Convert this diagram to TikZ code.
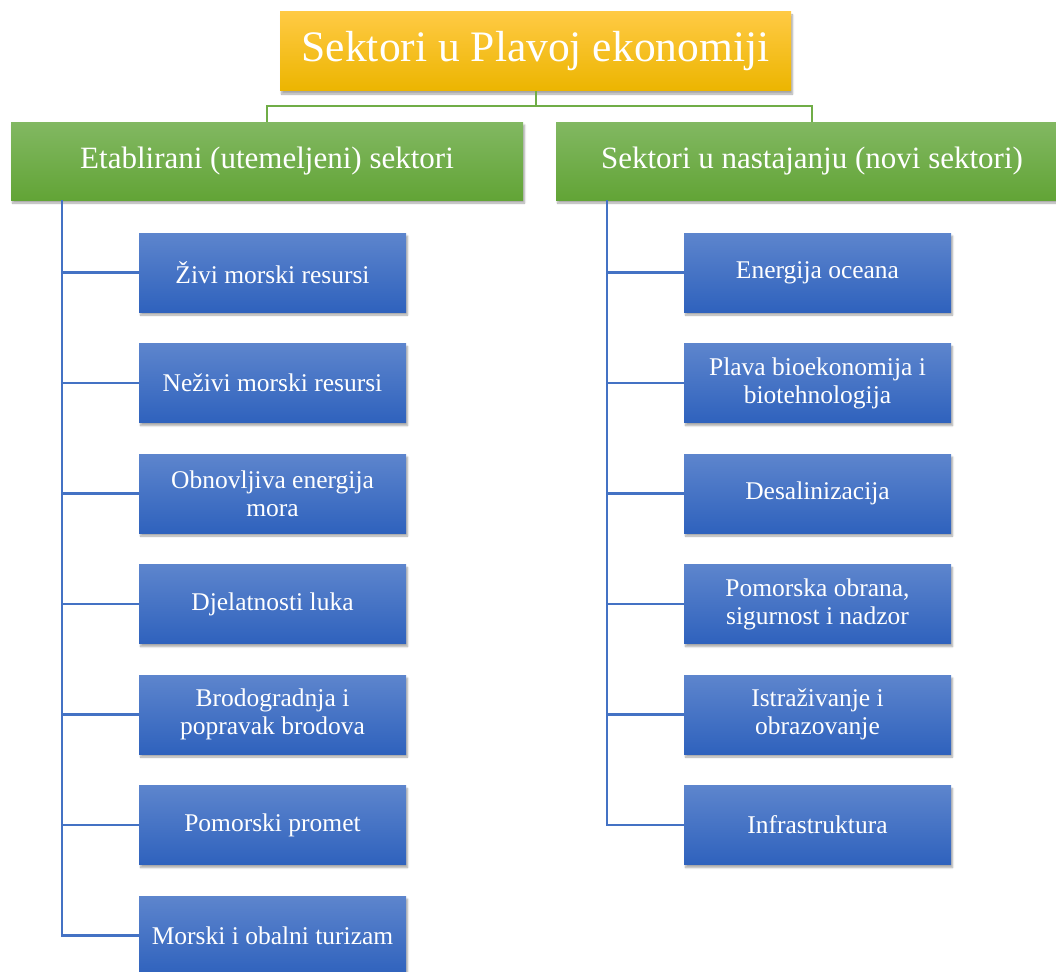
\documentclass[tikz,border=0pt]{standalone}
\usepackage{fontspec}
\setmainfont{Liberation Serif}
\usepackage{tikz}
\usetikzlibrary{shadows,shadows.blur}

\definecolor{goldtop}{HTML}{FFCA44}
\definecolor{goldmid}{HTML}{FFC200}
\definecolor{goldbot}{HTML}{ECB500}
\definecolor{greentop}{HTML}{82B862}
\definecolor{greenmid}{HTML}{6EAD42}
\definecolor{greenbot}{HTML}{62A436}
\definecolor{bluetop}{HTML}{5D85CD}
\definecolor{bluemid}{HTML}{3F6CC6}
\definecolor{bluebot}{HTML}{2F62BD}
\definecolor{greenline}{HTML}{70AD47}
\definecolor{blueline}{HTML}{4472C4}

\begin{document}
\begin{tikzpicture}[x=1pt, y=-1pt,
    box/.style={rectangle, inner sep=0pt, text=white, align=center,
      blur shadow={shadow xshift=1.5pt, shadow yshift=-3pt, shadow opacity=35, shadow blur steps=6}},
    topbox/.style={box, minimum width=511pt, minimum height=79pt,
      top color=goldtop, middle color=goldmid, bottom color=goldbot,
      font=\fontsize{43.5}{50}\selectfont},
    groupbox/.style={box, minimum width=512pt, minimum height=78pt,
      top color=greentop, middle color=greenmid, bottom color=greenbot,
      font=\fontsize{31}{36}\selectfont},
    itembox/.style={box, minimum width=267pt, minimum height=79pt,
      top color=bluetop, middle color=bluemid, bottom color=bluebot,
      font=\fontsize{25.5}{28}\selectfont},
    greenlink/.style={draw=greenline, line width=2pt},
    bluelink/.style={draw=blueline, line width=2.2pt}]
    \useasboundingbox (0,0) rectangle (1056,971);

    % lines
    \path (535.5, 51.5) node[topbox] (plava) {Sektori u Plavoj ekonomiji};
    \path (267, 161) node[groupbox] (etab) {Etablirani (utemeljeni) sektori};
    \path (812, 161) node[groupbox] (novi) {Sektori u nastajanju (novi sektori)};

    \draw[greenlink] (plava.south) -- ++(0,15) -| (etab.north);
    \draw[greenlink] (plava.south) -- ++(0,15) -| (novi.north);

    \coordinate (etabtrunk) at ([xshift=51pt]etab.south west);
    \coordinate (novitrunk) at ([xshift=51pt]novi.south west);

    % left column
    \foreach \txt [count=\i] in {\v{Z}ivi morski resursi, Ne\v{z}ivi morski resursi,
        {Obnovljiva energija\\mora}, Djelatnosti luka, {Brodogradnja i\\popravak brodova},
        Pomorski promet, Morski i obalni turizam} {
      \node[itembox] (l\i) at (272.5, 162 + 110.5*\i) {\txt};
      \draw[bluelink] (etabtrunk) |- (l\i.west);
    }

    % right column
    \foreach \txt [count=\i] in {Energija oceana, {Plava bioekonomija i\\biotehnologija},
        Desalinizacija, {Pomorska obrana,\\sigurnost i nadzor}, {Istra\v{z}ivanje i\\obrazovanje},
        Infrastruktura} {
      \node[itembox] (r\i) at (817.5, 162 + 110.5*\i) {\txt};
      \draw[bluelink] (novitrunk) |- (r\i.west);
    }
\end{tikzpicture}
\end{document}
